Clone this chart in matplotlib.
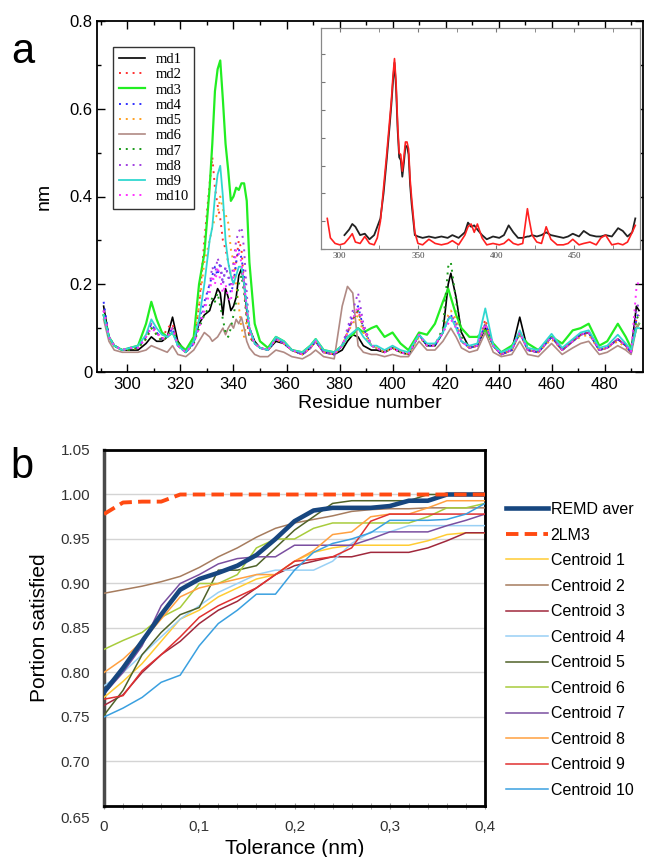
import numpy as np
import matplotlib.pyplot as plt
from matplotlib.ticker import MultipleLocator
from matplotlib.transforms import ScaledTranslation

plt.rcParams['font.family'] = ['Liberation Sans', 'DejaVu Sans']

# ---------------- panel a: RMSF per residue (10 runs) ----------------
residues = [291, 293, 295, 298, 301, 304, 307, 309, 311, 313,
            315, 317, 319, 322, 325, 327, 329, 331, 332, 333,
            334, 335, 336, 337, 338, 339, 340, 341, 342, 343,
            344, 345, 346, 348, 350, 353, 356, 359, 362, 366,
            369, 371, 374, 378, 381, 383, 385, 387, 389, 392,
            394, 397, 400, 403, 406, 410, 413, 416, 419, 421,
            422, 424, 426, 429, 432, 435, 438, 441, 445, 448,
            451, 455, 460, 464, 468, 471, 474, 478, 481, 485,
            488, 490, 492, 493]

md1 = [.15, .08, .06, .05, .05, .05, .065, .08, .07, .07,
       .08, .125, .07, .045, .07, .11, .13, .14, .16, .17,
       .19, .18, .13, .19, .17, .14, .15, .17, .22, .235,
       .20, .14, .10, .07, .055, .05, .07, .065, .05, .04,
       .055, .07, .045, .04, .05, .07, .085, .08, .06, .05,
       .05, .045, .055, .045, .04, .085, .06, .06, .09, .20,
       .225, .17, .09, .055, .06, .10, .06, .04, .05, .125,
       .05, .045, .08, .05, .07, .085, .09, .05, .055, .075,
       .06, .045, .15, .14]
md2 = [.14, .08, .06, .05, .055, .055, .08, .11, .09, .075,
       .10, .11, .06, .045, .065, .15, .30, .43, .49, .42,
       .38, .35, .30, .28, .25, .22, .20, .25, .30, .28,
       .20, .12, .08, .065, .055, .05, .075, .065, .05, .04,
       .055, .07, .045, .04, .06, .09, .12, .14, .10, .06,
       .055, .045, .055, .045, .04, .085, .06, .06, .09, .12,
       .13, .11, .07, .055, .06, .12, .06, .04, .05, .09,
       .05, .045, .08, .05, .07, .085, .09, .05, .055, .075,
       .06, .045, .12, .13]
md3 = [.13, .08, .06, .05, .055, .06, .11, .16, .12, .09,
       .08, .09, .065, .05, .08, .20, .27, .42, .52, .64,
       .69, .71, .62, .52, .46, .39, .40, .42, .415, .43,
       .43, .39, .25, .11, .07, .055, .08, .07, .05, .045,
       .06, .075, .05, .045, .06, .08, .085, .10, .09, .10,
       .105, .08, .09, .065, .05, .09, .085, .11, .16, .19,
       .17, .13, .10, .08, .08, .095, .065, .045, .06, .085,
       .065, .05, .08, .065, .095, .10, .11, .06, .07, .11,
       .08, .055, .10, .11]
md4 = [.16, .08, .06, .05, .055, .055, .08, .11, .09, .075,
       .08, .10, .06, .045, .065, .12, .16, .20, .22, .24,
       .22, .25, .20, .24, .22, .18, .20, .25, .28, .26,
       .22, .15, .10, .065, .055, .05, .075, .065, .05, .04,
       .055, .07, .045, .04, .06, .09, .13, .15, .10, .06,
       .055, .045, .055, .045, .04, .085, .06, .06, .09, .12,
       .13, .11, .07, .055, .06, .11, .06, .04, .05, .09,
       .05, .045, .08, .05, .07, .085, .09, .05, .055, .075,
       .06, .045, .12, .14]
md5 = [.13, .075, .06, .05, .05, .055, .075, .10, .085, .07,
       .08, .10, .06, .045, .065, .15, .25, .30, .33, .35,
       .36, .40, .37, .36, .34, .28, .25, .20, .15, .10,
       .08, .12, .10, .065, .055, .05, .075, .065, .05, .04,
       .055, .07, .045, .04, .06, .09, .11, .13, .09, .06,
       .055, .045, .055, .045, .04, .08, .06, .06, .09, .13,
       .14, .12, .07, .055, .06, .11, .06, .04, .05, .09,
       .05, .045, .075, .05, .07, .08, .085, .05, .055, .07,
       .055, .045, .11, .12]
md6 = [.12, .07, .05, .045, .045, .045, .05, .06, .055, .05,
       .045, .06, .04, .035, .05, .07, .09, .08, .07, .075,
       .08, .09, .10, .085, .10, .11, .10, .12, .11, .125,
       .10, .07, .055, .04, .035, .035, .05, .045, .035, .03,
       .04, .05, .035, .03, .15, .195, .18, .06, .045, .04,
       .04, .035, .04, .035, .035, .07, .05, .05, .07, .09,
       .10, .08, .055, .045, .05, .09, .045, .035, .04, .07,
       .04, .035, .065, .04, .055, .065, .07, .04, .045, .06,
       .05, .04, .10, .11]
md7 = [.13, .08, .06, .05, .05, .055, .075, .10, .085, .07,
       .08, .10, .06, .045, .065, .10, .13, .15, .17, .16,
       .18, .15, .12, .09, .08, .10, .13, .16, .20, .22,
       .18, .12, .08, .065, .055, .05, .075, .065, .05, .04,
       .055, .07, .045, .04, .06, .09, .12, .14, .10, .06,
       .055, .045, .055, .045, .04, .085, .06, .06, .10, .24,
       .25, .16, .08, .055, .06, .11, .06, .04, .05, .09,
       .05, .045, .08, .05, .07, .085, .09, .05, .055, .075,
       .06, .045, .12, .13]
md8 = [.14, .08, .06, .05, .055, .055, .08, .11, .09, .075,
       .08, .10, .06, .045, .065, .11, .15, .20, .24, .22,
       .26, .24, .20, .24, .22, .20, .25, .30, .32, .33,
       .28, .18, .10, .065, .055, .05, .075, .065, .05, .04,
       .055, .07, .045, .04, .06, .10, .14, .18, .11, .06,
       .055, .045, .055, .045, .04, .085, .06, .06, .09, .12,
       .13, .11, .07, .055, .06, .11, .06, .04, .05, .09,
       .05, .045, .08, .05, .07, .085, .09, .05, .055, .075,
       .06, .045, .14, .16]
md9 = [.13, .08, .06, .05, .055, .06, .085, .12, .10, .085,
       .08, .09, .06, .045, .07, .12, .20, .30, .33, .40,
       .45, .47, .40, .30, .25, .22, .20, .22, .24, .24,
       .20, .15, .10, .065, .055, .05, .08, .07, .05, .045,
       .06, .075, .05, .045, .06, .08, .09, .10, .08, .06,
       .06, .05, .06, .05, .045, .085, .065, .065, .09, .12,
       .125, .10, .07, .06, .065, .145, .06, .045, .055, .095,
       .055, .05, .087, .055, .075, .09, .095, .055, .06, .085,
       .065, .05, .10, .10]
md10 = [.14, .08, .06, .05, .055, .055, .08, .10, .09, .075,
        .08, .10, .06, .045, .065, .10, .14, .18, .22, .20,
        .24, .21, .18, .20, .17, .16, .22, .28, .27, .25,
        .20, .14, .09, .065, .055, .05, .075, .065, .05, .04,
        .055, .07, .045, .04, .06, .09, .12, .15, .10, .06,
        .055, .045, .055, .045, .04, .085, .06, .06, .09, .11,
        .12, .10, .07, .055, .06, .11, .06, .04, .05, .09,
        .05, .045, .08, .05, .07, .085, .09, .05, .055, .075,
        .06, .045, .19, .21]

# inset
inset_res = [292, 294, 297, 300, 303, 306, 308, 310, 313, 316,
             319, 322, 324, 326, 328, 330, 332, 333, 334, 335,
             336, 337, 338, 339, 340, 341, 342, 343, 344, 345,
             346, 348, 350, 353, 357, 361, 365, 369, 372, 376,
             380, 382, 384, 386, 388, 391, 394, 398, 402, 405,
             408, 411, 414, 417, 420, 421, 423, 426, 429, 432,
             435, 439, 443, 446, 449, 453, 456, 460, 464, 467,
             470, 474, 478, 481, 484, 487, 489]
inset_red = [.11, .04, .02, .015, .02, .04, .055, .025, .02, .045,
             .02, .015, .04, .10, .22, .34, .47, .535, .62, .685,
             .60, .45, .345, .34, .28, .33, .385, .385, .36, .25,
             .18, .06, .02, .015, .035, .02, .015, .02, .03, .015,
             .05, .08, .09, .06, .09, .04, .015, .02, .015, .02,
             .035, .02, .015, .02, .145, .11, .05, .025, .02, .08,
             .035, .015, .015, .02, .035, .015, .02, .025, .015, .04,
             .05, .015, .02, .015, .025, .06, .085]
inset_black = [np.nan, np.nan, np.nan, np.nan, .05, .07, .09, .08, .05, .055,
               .035, .05, .08, .11, .20, .32, .45, .52, .60, .67,
               .58, .43, .33, .32, .26, .31, .37, .37, .34, .23,
               .16, .05, .045, .04, .045, .04, .045, .04, .05, .04,
               .06, .095, .08, .085, .07, .05, .035, .045, .04, .05,
               .085, .06, .04, .04, .045, .045, .05, .045, .05, .06,
               .05, .045, .04, .045, .055, .045, .065, .05, .045, .045,
               .05, .045, .075, .065, .045, .06, .11]

# ---------------- panel b: portion of restraints satisfied ----------------
tolerance = [0.00, 0.02, 0.04, 0.06, 0.08, 0.10, 0.12, 0.14, 0.16, 0.18, 0.20,
             0.22, 0.24, 0.26, 0.28, 0.30, 0.32, 0.34, 0.36, 0.38, 0.40]
remd_aver = [0.778, 0.805, 0.835, 0.865, 0.893, 0.905, 0.912, 0.920, 0.932, 0.950, 0.970,
             0.982, 0.985, 0.985, 0.985, 0.987, 0.993, 0.993, 1.000, 1.000, 1.000]
lm3 = [0.978, 0.991, 0.992, 0.992, 1.000, 1.000, 1.000, 1.000, 1.000, 1.000, 1.000,
       1.000, 1.000, 1.000, 1.000, 1.000, 1.000, 1.000, 1.000, 1.000, 1.000]
c1 = [0.772, 0.790, 0.810, 0.835, 0.860, 0.870, 0.885, 0.895, 0.905, 0.910, 0.925,
      0.935, 0.940, 0.943, 0.943, 0.943, 0.943, 0.948, 0.955, 0.957, 0.957]
c2 = [0.889, 0.893, 0.897, 0.902, 0.908, 0.918, 0.930, 0.940, 0.952, 0.962, 0.968,
      0.972, 0.976, 0.981, 0.983, 0.984, 0.984, 0.985, 0.985, 0.985, 0.985]
c3 = [0.763, 0.775, 0.800, 0.820, 0.835, 0.855, 0.870, 0.880, 0.895, 0.910, 0.920,
      0.925, 0.930, 0.930, 0.935, 0.935, 0.935, 0.940, 0.948, 0.957, 0.957]
c4 = [0.785, 0.800, 0.820, 0.840, 0.860, 0.875, 0.890, 0.900, 0.910, 0.915, 0.915,
      0.915, 0.925, 0.945, 0.958, 0.958, 0.965, 0.965, 0.965, 0.965, 0.965]
c5 = [0.752, 0.780, 0.820, 0.845, 0.865, 0.873, 0.915, 0.915, 0.920, 0.940, 0.960,
      0.975, 0.990, 0.993, 0.993, 0.993, 0.993, 1.000, 1.000, 1.000, 1.000]
c6 = [0.826, 0.836, 0.845, 0.862, 0.873, 0.900, 0.900, 0.910, 0.940, 0.950, 0.950,
      0.962, 0.968, 0.968, 0.968, 0.968, 0.968, 0.975, 0.985, 0.985, 0.990]
c7 = [0.776, 0.800, 0.830, 0.875, 0.900, 0.910, 0.922, 0.928, 0.930, 0.930, 0.943,
      0.943, 0.943, 0.943, 0.950, 0.958, 0.958, 0.958, 0.965, 0.971, 0.978]
c8 = [0.800, 0.815, 0.835, 0.860, 0.885, 0.895, 0.900, 0.905, 0.910, 0.910, 0.925,
      0.937, 0.955, 0.958, 0.975, 0.978, 0.978, 0.985, 0.993, 0.993, 0.993]
c9 = [0.770, 0.774, 0.802, 0.820, 0.840, 0.862, 0.875, 0.885, 0.895, 0.910, 0.925,
      0.927, 0.930, 0.940, 0.970, 0.978, 0.978, 0.978, 0.978, 0.978, 0.978]
c10 = [0.750, 0.760, 0.772, 0.789, 0.797, 0.830, 0.855, 0.870, 0.888, 0.888, 0.915,
       0.935, 0.945, 0.950, 0.957, 0.971, 0.971, 0.971, 0.972, 0.978, 0.990]

fig = plt.figure(figsize=(6.5, 8.57), dpi=100)
W, H = 650, 857

# ---------- panel a ----------
ax = fig.add_axes([97 / W, 1 - 372 / H, 546 / W, 351 / H])
dot = (0, (1, 2.5))
md_series = [
    ("md1", md1, "black", "-", 1.2),
    ("md2", md2, "#ff3030", dot, 1.4),
    ("md3", md3, "#22ee22", "-", 1.6),
    ("md4", md4, "#3030ff", dot, 1.4),
    ("md5", md5, "#ffa020", dot, 1.4),
    ("md6", md6, "#b08a84", "-", 1.2),
    ("md7", md7, "#1a9a1a", dot, 1.4),
    ("md8", md8, "#a040e0", dot, 1.4),
    ("md9", md9, "#30d8d0", "-", 1.3),
    ("md10", md10, "#ff30ff", dot, 1.4),
]
for name, vals, col, ls, lw in md_series:
    assert len(vals) == len(residues), name
    ax.plot(residues, vals, color=col, linestyle=ls, lw=lw, label=name)

ax.set_xlim(288.5, 494.5)
ax.set_ylim(0, 0.8)
ax.xaxis.set_major_locator(MultipleLocator(20))
ax.xaxis.set_minor_locator(MultipleLocator(10))
ax.yaxis.set_minor_locator(MultipleLocator(0.1))
ax.set_yticks([0, 0.2, 0.4, 0.6, 0.8])
ax.set_yticklabels(["0", "0.2", "0.4", "0.6", "0.8"])
ax.tick_params(which="both", direction="in", top=True, right=True, labelsize=12, width=1)
ax.tick_params(which="major", length=6)
ax.tick_params(which="minor", length=3)
for sp in ax.spines.values():
    sp.set_linewidth(1.3)
ax.set_xlabel("Residue number", fontsize=14, labelpad=2)
ax.set_ylabel("nm", fontsize=14, labelpad=12)

leg = ax.legend(loc="upper left", bbox_to_anchor=(113 / W, 1 - 47 / H),
                bbox_transform=fig.transFigure, prop={"family": "Liberation Serif", "size": 10.5},
                handlelength=1.8, handletextpad=0.7, labelspacing=0.14, borderpad=0.4,
                borderaxespad=0, fancybox=False, framealpha=1, edgecolor="#333333")
leg.get_frame().set_linewidth(1.0)

fig.text(23 / W, 1 - 52 / H, "a", fontsize=30, ha="center", va="center")

# inset
axi = fig.add_axes([321 / W, 1 - 249 / H, 319 / W, 221 / H])
assert len(inset_red) == len(inset_res) and len(inset_black) == len(inset_res)
axi.plot(inset_res, inset_black, color="#222222", lw=1.3)
axi.plot(inset_res, inset_red, color="#ff2020", lw=1.2)
axi.set_xlim(288, 492)
axi.set_ylim(0, 0.795)
axi.xaxis.set_major_locator(MultipleLocator(50))
axi.xaxis.set_minor_locator(MultipleLocator(25))
axi.yaxis.set_major_locator(MultipleLocator(0.1))
axi.set_yticklabels([])
axi.tick_params(axis="x", which="both", direction="in", top=True, labelsize=6.5,
                labelcolor="#444444", color="#777777", length=3, pad=2)
axi.tick_params(axis="y", which="both", direction="in", length=3, color="#777777")
for lab in axi.get_xticklabels():
    lab.set_family("Liberation Serif")
for sp in axi.spines.values():
    sp.set_color("#888888")
    sp.set_linewidth(0.9)

# ---------- panel b ----------
bx = fig.add_axes([104 / W, 1 - 806 / H, 381 / W, 356 / H])
cent_colors = ["#ffcc33", "#a67c5e", "#a0283c", "#99d0f5", "#4f6228",
               "#a8cc3c", "#7a4fa0", "#ffa040", "#e03030", "#3aa0e0"]
centroids = [c1, c2, c3, c4, c5, c6, c7, c8, c9, c10]
handles = []
h_remd, = bx.plot(tolerance, remd_aver, color="#17467f", lw=3.3, zorder=5, label="REMD aver")
h_lm3, = bx.plot(tolerance, lm3, color="#ff4a12", lw=2.8, ls=(0, (3.2, 1.6)), zorder=6, label="2LM3")
handles += [h_remd, h_lm3]
for i, (vals, col) in enumerate(zip(centroids, cent_colors)):
    h, = bx.plot(tolerance, vals, color=col, lw=1.1, zorder=3, label="Centroid %d" % (i + 1))
    handles.append(h)

bx.set_xlim(0, 0.4)
bx.set_ylim(0.65, 1.05)
yt = np.arange(0.65, 1.0501, 0.05)
bx.set_yticks(yt)
bx.set_yticklabels(["%.2f" % v for v in yt])
bx.set_xticks([0, 0.1, 0.2, 0.3, 0.4])
bx.set_xticklabels(["0", "0,1", "0,2", "0,3", "0,4"])
bx.xaxis.set_minor_locator(MultipleLocator(0.02))
bx.grid(axis="y", color="#d4d4d4", lw=1.0)
bx.set_axisbelow(True)
bx.tick_params(axis="y", length=0, labelsize=11, pad=10, labelcolor="#333333")
bx.tick_params(axis="x", which="both", direction="inout", length=4, color="#999999",
               labelsize=11, labelcolor="#333333", pad=8)
for sp in bx.spines.values():
    sp.set_linewidth(2.0)
    sp.set_color("black")
bx.spines["left"].set_color("#4a4a4a")
bx.spines["left"].set_linewidth(2.5)
ylabs = bx.get_yticklabels()
ylabs[0].set_transform(ylabs[0].get_transform() + ScaledTranslation(0, -8 / 72, fig.dpi_scale_trans))
bx.set_xlabel("Tolerance (nm)", fontsize=15, labelpad=4)
bx.set_ylabel("Portion satisfied", fontsize=15, labelpad=8)

fig.legend(handles=handles, loc="upper left", bbox_to_anchor=(506 / W, 1 - 502 / H),
           frameon=False, fontsize=11.5, handlelength=2.6, handletextpad=0.2,
           labelspacing=0.66, borderpad=0, borderaxespad=0)

fig.text(22 / W, 1 - 467 / H, "b", fontsize=30, ha="center", va="center")

fig.savefig("out.png", dpi=100)
